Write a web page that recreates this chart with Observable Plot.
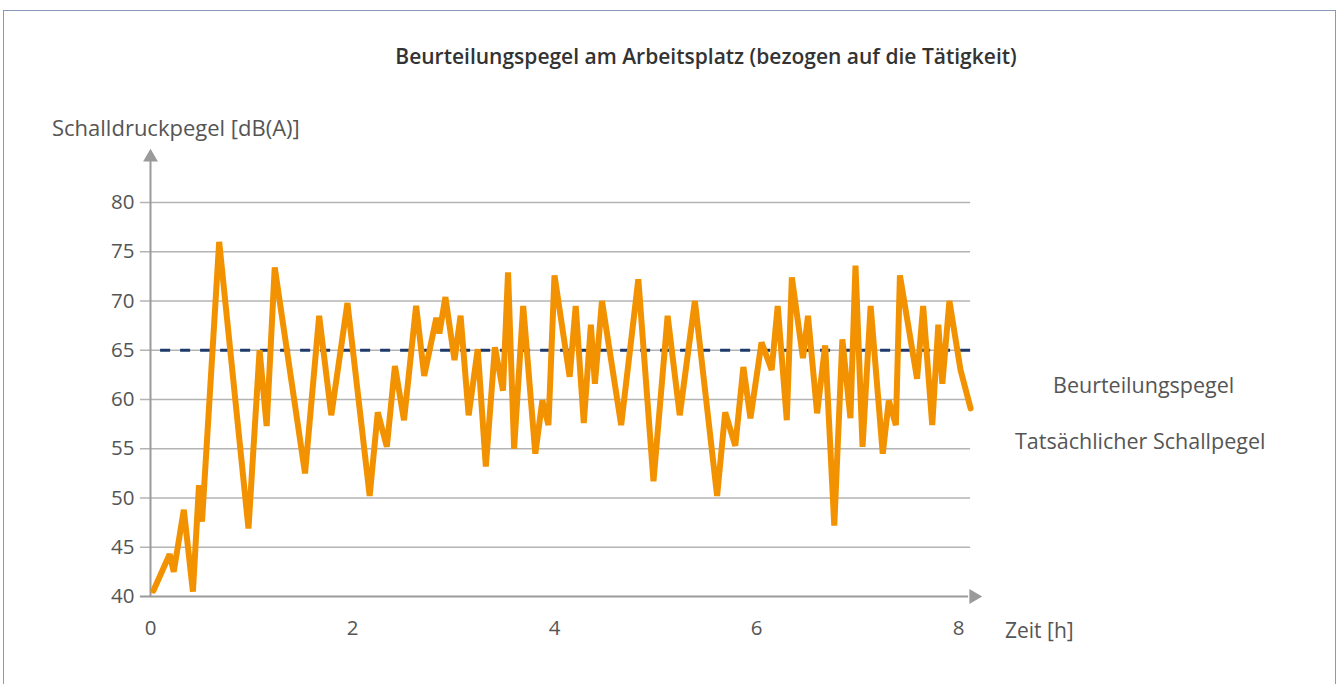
<!DOCTYPE html>
<html><head><meta charset="utf-8">
<script src="https://cdn.jsdelivr.net/npm/d3@7"></script>
<script src="https://cdn.jsdelivr.net/npm/@observablehq/plot@0.6"></script>
<style>
body{margin:0;background:#fff;font-family:"Open Sans",sans-serif;}
#wrap{position:relative;width:1341px;height:684px;overflow:hidden;background:#fff;}
#frame{position:absolute;left:3px;top:10px;width:1333px;height:720px;border:1.5px solid #8a99b8;box-sizing:border-box;}
.t{position:absolute;white-space:nowrap;color:#555;line-height:1;}
#title{left:706px;top:46px;transform:translateX(-50%);font-weight:600;font-size:21px;color:#333;}
#ylab{left:52px;top:116px;font-size:22px;}
#leg1{left:1053px;top:374px;font-size:21.5px;}
#leg2{left:1015px;top:430px;font-size:21.5px;}
#xlab{left:1005px;top:620px;font-size:21px;}
#chart{position:absolute;left:0;top:150px;}
</style>
</head><body>
<div id="wrap">
  <div id="frame"></div>
  <div class="t" id="title">Beurteilungspegel am Arbeitsplatz (bezogen auf die Tätigkeit)</div>
  <div class="t" id="ylab">Schalldruckpegel [dB(A)]</div>
  <div class="t" id="leg1">Beurteilungspegel</div>
  <div class="t" id="leg2">Tatsächlicher Schallpegel</div>
  <div class="t" id="xlab">Zeit [h]</div>
  <div id="chart"></div>
</div>
<script>
// Zeit [h]
const zeit = [0.03,0.19,0.23,0.33,0.42,0.48,0.51,0.68,0.97,1.08,1.15,1.23,1.53,1.67,1.79,1.95,2.17,2.25,2.34,2.42,2.51,2.63,2.71,2.83,2.86,2.92,3.01,3.07,3.15,3.24,3.32,3.41,3.49,3.54,3.60,3.69,3.81,3.88,3.94,4.00,4.15,4.21,4.29,4.36,4.40,4.47,4.66,4.83,4.98,5.12,5.24,5.39,5.61,5.69,5.79,5.87,5.94,6.05,6.15,6.21,6.30,6.35,6.46,6.51,6.60,6.68,6.77,6.85,6.93,6.98,7.05,7.13,7.25,7.31,7.38,7.42,7.59,7.65,7.74,7.80,7.84,7.91,8.02,8.12];
// Tatsächlicher Schallpegel [dB(A)]
const schallpegel = [40.6,44.3,42.5,48.8,40.5,51.3,47.6,76.0,46.9,65.0,57.3,73.4,52.5,68.5,58.4,69.8,50.2,58.7,55.2,63.4,57.9,69.5,62.4,68.3,66.7,70.4,64.0,68.5,58.4,65.1,53.2,65.3,60.9,72.9,55.0,69.5,54.5,59.9,57.4,72.6,62.3,69.5,57.6,67.6,61.6,70.0,57.4,72.2,51.7,68.5,58.4,70.0,50.2,58.7,55.3,63.3,58.1,65.8,63.0,69.5,57.9,72.4,64.2,68.5,58.6,65.5,47.2,66.1,58.1,73.6,55.2,69.5,54.5,59.9,57.4,72.6,62.1,69.5,57.4,67.6,61.6,70.0,63.0,59.1];
// Beurteilungspegel [dB(A)]
const beurteilungspegel = 65;
const yTicks = [40,45,50,55,60,65,70,75,80];
const xTicks = [0,2,4,6,8];
const gridExtent = [-0.1, 8.12];
const dashExtent = [0.1, 8.12];
const yAxisTop = 84.2;
const xArrowAt = 8.15;
const yArrowAt = 84.6;

const data = zeit.map((t,i)=>({t, v: schallpegel[i]}));

const chart = Plot.plot({
  width: 1341,
  height: 534,
  marginLeft: 150,
  marginRight: 383,
  marginTop: 52,
  marginBottom: 88,
  style: {fontFamily: '"Open Sans", sans-serif', background: "transparent", overflow: "visible"},
  x: {domain: [0, 8]},
  y: {domain: [40, 80]},
  marks: [
    Plot.ruleY(yTicks.slice(1), {x1: gridExtent[0], x2: gridExtent[1], stroke: "#b4b4b4", strokeWidth: 1.5}),
    Plot.ruleY([40], {x1: gridExtent[0], x2: 8.1, stroke: "#9a9a9a", strokeWidth: 2}),
    Plot.ruleX([0], {y1: 40, y2: yAxisTop, stroke: "#9a9a9a", strokeWidth: 2}),
    Plot.dot([{x: xArrowAt, y: 40}], {x: "x", y: "y", symbol: "triangle", rotate: 90, r: 5.5, fill: "#9a9a9a", stroke: null}),
    Plot.dot([{x: 0, y: yArrowAt}], {x: "x", y: "y", symbol: "triangle", r: 5.5, fill: "#9a9a9a", stroke: null}),
    Plot.ruleY([beurteilungspegel], {x1: dashExtent[0], x2: dashExtent[1], stroke: "#1e3a6b", strokeWidth: 3, strokeDasharray: "10,10"}),
    Plot.line(data, {x: "t", y: "v", stroke: "#f39200", strokeWidth: 6, strokeLinejoin: "miter", strokeMiterlimit: 3}),
    Plot.axisY({ticks: yTicks, tickSize: 0, tickPadding: 16, fontSize: 20.5, fill: "#555", label: null}),
    Plot.axisX({ticks: xTicks, tickSize: 0, tickPadding: 24, fontSize: 20.5, fill: "#555", label: null})
  ]
});
document.getElementById("chart").appendChild(chart);
</script>
</body></html>
